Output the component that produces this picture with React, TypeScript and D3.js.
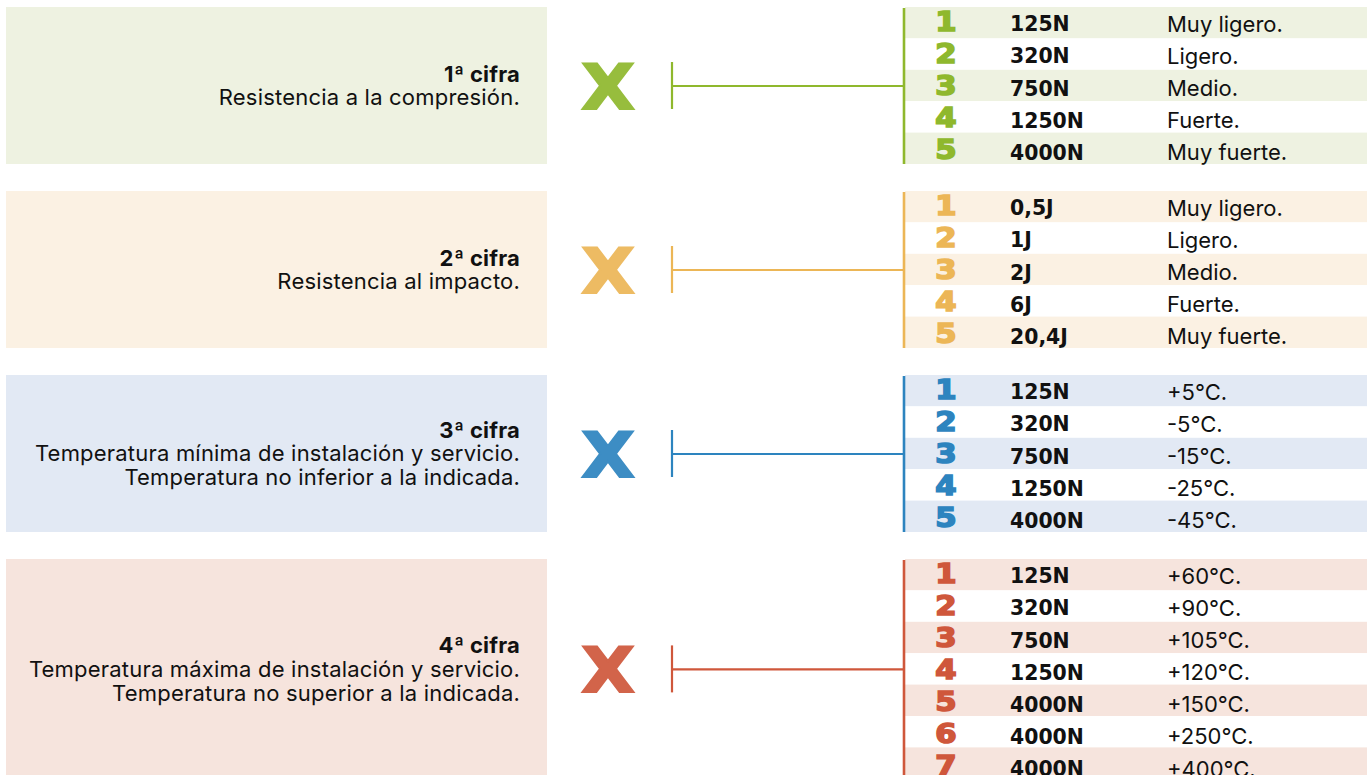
import React, { useEffect, useRef } from 'react';
import * as d3 from 'd3';

const width = 1367;
const height = 775;

const figureTitles = ['1ª cifra', '2ª cifra', '3ª cifra', '4ª cifra'];
const figureTexts = [
  ['Resistencia a la compresión.'],
  ['Resistencia al impacto.'],
  ['Temperatura mínima de instalación y servicio.', 'Temperatura no inferior a la indicada.'],
  ['Temperatura máxima de instalación y servicio.', 'Temperatura no superior a la indicada.']
];

const compressionValues = ['125N', '320N', '750N', '1250N', '4000N'];
const compressionLabels = ['Muy ligero.', 'Ligero.', 'Medio.', 'Fuerte.', 'Muy fuerte.'];
const impactValues = ['0,5J', '1J', '2J', '6J', '20,4J'];
const impactLabels = ['Muy ligero.', 'Ligero.', 'Medio.', 'Fuerte.', 'Muy fuerte.'];
const minTempValues = ['125N', '320N', '750N', '1250N', '4000N'];
const minTempLabels = ['+5°C.', '-5°C.', '-15°C.', '-25°C.', '-45°C.'];
const maxTempValues = ['125N', '320N', '750N', '1250N', '4000N', '4000N', '4000N'];
const maxTempLabels = ['+60°C.', '+90°C.', '+105°C.', '+120°C.', '+150°C.', '+250°C.', '+400°C.'];

const tableValues = [compressionValues, impactValues, minTempValues, maxTempValues];
const tableLabels = [compressionLabels, impactLabels, minTempLabels, maxTempLabels];

const colors = ['#8fb82d', '#ecb656', '#2d84bf', '#cf573b'];
const tints = ['#eef2e1', '#fbf1e3', '#e2e9f4', '#f6e4dd'];

const rowH = 31.4;
const textStep = 32.1;
const gap = 27;
const top0 = 7;

const textFont = 'Inter, "Liberation Sans", sans-serif';

const App = () => {
  const svgRef = useRef<SVGSVGElement>(null);

  useEffect(() => {
    const svg = d3.select(svgRef.current);
    svg.selectAll('*').remove();

    // panel tops, stacked
    const tops: number[] = [];
    let y = top0;
    tableValues.forEach(vals => {
      tops.push(y);
      y += vals.length * rowH + gap;
    });

    const col = d3.scaleOrdinal<string>().domain(['digit', 'value', 'label']).range(['946', '1010', '1167']);

    tableValues.forEach((vals, i) => {
      const top = tops[i];
      const h = vals.length * rowH;
      const mid = top + h / 2;
      const g = svg.append('g');

      g.append('rect')
        .attr('x', 6).attr('y', top)
        .attr('width', 541).attr('height', h)
        .attr('fill', tints[i]);

      const lines = [figureTitles[i], ...figureTexts[i]];
      const half = (lines.length - 1) * 11.9;
      const ly = d3.scaleLinear().domain([0, lines.length - 1]).range([mid - half, mid + half]);
      g.selectAll('text.desc')
        .data(lines)
        .enter()
        .append('text')
        .attr('class', 'desc')
        .attr('x', 520)
        .attr('y', (d, k) => ly(k))
        .attr('dy', '0.36em')
        .attr('text-anchor', 'end')
        .attr('font-family', textFont)
        .attr('font-size', 22)
        .attr('letter-spacing', 0.2)
        .attr('font-weight', (d, k) => (k === 0 ? 700 : 400))
        .attr('fill', '#111')
        .text(d => d);

      // big X
      g.append('text')
        .attr('transform', `translate(608,${mid + 23}) scale(1.12,1)`)
        .attr('text-anchor', 'middle')
        .attr('font-family', '"DejaVu Sans", sans-serif')
        .attr('font-weight', 700)
        .attr('font-size', 62)
        .attr('fill', colors[i])
        .attr('stroke', colors[i])
        .attr('stroke-width', 2)
        .attr('opacity', 0.92)
        .text('X');

      // connector
      g.append('line')
        .attr('x1', 672).attr('x2', 672)
        .attr('y1', mid - 23.5).attr('y2', mid + 23.5)
        .attr('stroke', colors[i]).attr('stroke-width', 2.2);
      g.append('line')
        .attr('x1', 672).attr('x2', 904)
        .attr('y1', mid + 0.5).attr('y2', mid + 0.5)
        .attr('stroke', colors[i]).attr('stroke-width', 2.2);

      const rows = d3.scaleBand<number>()
        .domain(d3.range(vals.length))
        .range([top, top + h]);

      g.selectAll('rect.row')
        .data(vals)
        .enter()
        .append('rect')
        .attr('class', 'row')
        .attr('x', 905)
        .attr('y', (d, k) => rows(k)!)
        .attr('width', width - 905)
        .attr('height', rows.bandwidth())
        .attr('fill', (d, k) => (k % 2 === 0 ? tints[i] : '#fff'));

      g.append('line')
        .attr('x1', 904).attr('x2', 904)
        .attr('y1', top + 1).attr('y2', top + h)
        .attr('stroke', colors[i]).attr('stroke-width', 2.6);

      // text rows run on a slightly longer step than the shaded rows
      const cy = d3.scaleLinear().domain([0, 1]).range([top + 17, top + 17 + textStep]);

      g.selectAll('text.digit')
        .data(vals)
        .enter()
        .append('text')
        .attr('class', 'digit')
        .attr('transform', (d, k) => `translate(${col('digit')},${cy(k) + 6.5}) scale(1.18,1)`)
        .attr('text-anchor', 'middle')
        .attr('font-family', '"DejaVu Sans", sans-serif')
        .attr('font-weight', 700)
        .attr('font-size', 26)
        .attr('fill', colors[i])
        .attr('stroke', colors[i])
        .attr('stroke-width', 1.6)
        .text((d, k) => String(k + 1));

      g.selectAll('text.value')
        .data(vals)
        .enter()
        .append('text')
        .attr('class', 'value')
        .attr('x', +col('value'))
        .attr('y', (d, k) => cy(k))
        .attr('dy', '0.36em')
        .attr('font-family', '"DejaVu Sans", sans-serif')
        .attr('font-weight', 700)
        .attr('font-size', 20.4)
        .attr('fill', '#111')
        .text(d => d);

      g.selectAll('text.label')
        .data(tableLabels[i])
        .enter()
        .append('text')
        .attr('class', 'label')
        .attr('x', +col('label'))
        .attr('y', (d, k) => cy(k))
        .attr('dy', '0.36em')
        .attr('font-family', textFont)
        .attr('font-size', 22)
        .attr('fill', '#111')
        .text(d => d);
    });
  }, []);

  return (
    <svg
      ref={svgRef}
      width={width}
      height={height}
      style={{ position: 'absolute', left: 0, top: 0, background: '#fff' }}
    />
  );
};

export default App;
